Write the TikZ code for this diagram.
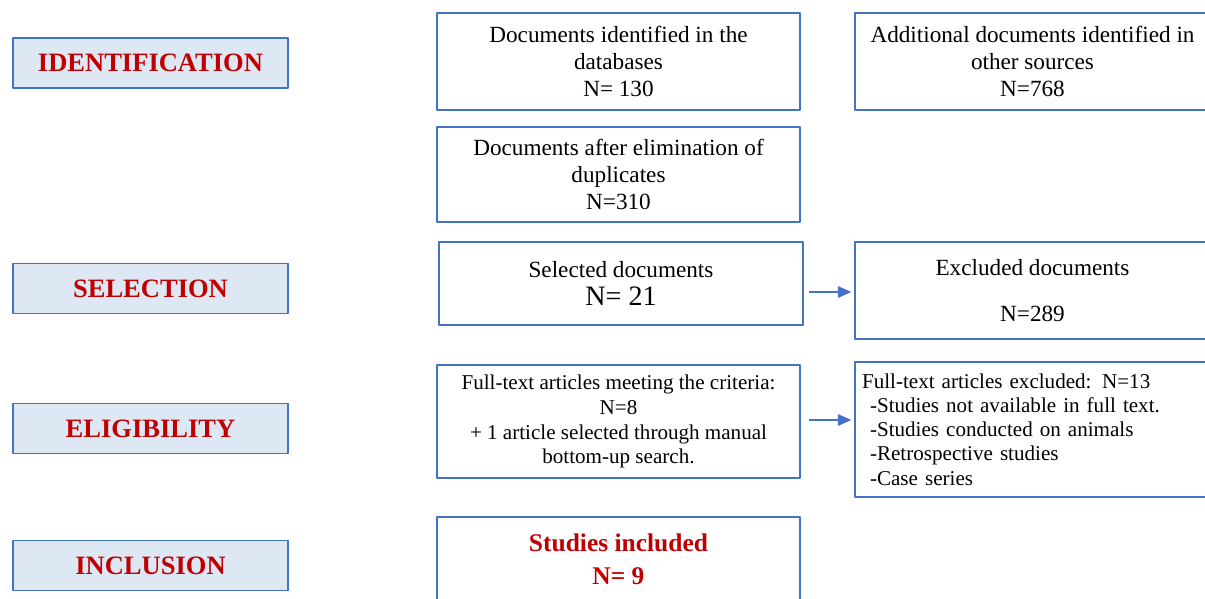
\documentclass[tikz,border=0pt]{standalone}
\usepackage{fontspec}
\setmainfont{Liberation Serif}
\usetikzlibrary{arrows.meta}
\definecolor{boxblue}{RGB}{68,114,196}
\definecolor{labfill}{RGB}{222,231,244}
\definecolor{labred}{RGB}{192,0,0}
\begin{document}
\begin{tikzpicture}[x=0.02cm,y=-0.02cm,line join=round,
		stage/.style={draw=boxblue,line width=0.8pt,fill=labfill,minimum width=5.5cm,minimum height=1cm,inner sep=0pt,text=labred,font=\fontsize{15.1}{18}\selectfont\bfseries},
		box/.style={draw=boxblue,line width=0.8pt,minimum width=7.26cm,inner sep=0pt,align=center,font=\fontsize{13.2}{15.4}\selectfont},
		rbox/.style={box,minimum width=7.1cm},
		arr/.style={-{Triangle[length=0.27cm,width=0.23cm]},boxblue,line width=1pt}]
				\useasboundingbox (0,0) rectangle (1205,599);
				% stages on the left
				\node[stage] (ident) at (150.5,63) {IDENTIFICATION};
				\node[stage] (selec) at (150.5,288.5) {SELECTION};
				\node[stage] (elig) at (150.5,428.5) {ELIGIBILITY};
				\node[stage] (inclu) at (150.5,565.5) {INCLUSION};
				% middle column
				\node[box,minimum height=1.94cm] (db) at (618.5,61.5) {Documents identified in the\\databases\\N= 130};
				\node[box,minimum height=1.9cm] (dup) at (618.5,174.5) {Documents after elimination of\\duplicates\\N=310};
				\node[box,minimum width=7.28cm,minimum height=1.66cm] (sel) at (621,283.5) {Selected documents\\[1pt]{\fontsize{16}{18}\selectfont N= 21}};
				\node[box,minimum height=2.26cm,font=\fontsize{12}{14.2}\selectfont] (full) at (618.5,421.5) {Full-text articles meeting the criteria:\\N=8\\+ 1 article selected through manual\\bottom-up search.};
				\node[box,minimum height=1.7cm,text=labred,font=\fontsize{14.5}{19}\selectfont\bfseries] (incl) at (618.5,559.5) {Studies included\\N= 9};
				% right column
				\node[rbox,minimum height=1.94cm] (other) at (1032.5,61.5) {Additional documents identified in\\other sources\\N=768};
				\node[rbox,minimum height=1.94cm] (excl) at (1032.5,290.5) {Excluded documents\\[11pt]N=289};
				\node[rbox,minimum height=2.7cm,inner xsep=0.14cm,text width=6.82cm,align=left,font=\fontsize{12}{13.8}\selectfont] (exft) at (1032.5,429.5) {Full-text articles excluded: N=13\\
					\hspace*{0.16cm}-Studies not available in full text.\\
					\hspace*{0.16cm}-Studies conducted on animals\\
					\hspace*{0.16cm}-Retrospective studies\\
					\hspace*{0.16cm}-Case series};
				% arrows
				\draw[arr] ([xshift=0.1cm,yshift=-0.17cm]sel.east) -- ([xshift=-0.06cm,yshift=-0.17cm]sel.east -| excl.west);
				\draw[arr] ([xshift=0.16cm,yshift=0.03cm]full.east) -- ([xshift=-0.06cm,yshift=0.03cm]full.east -| exft.west);
			\end{tikzpicture}
\end{document}
